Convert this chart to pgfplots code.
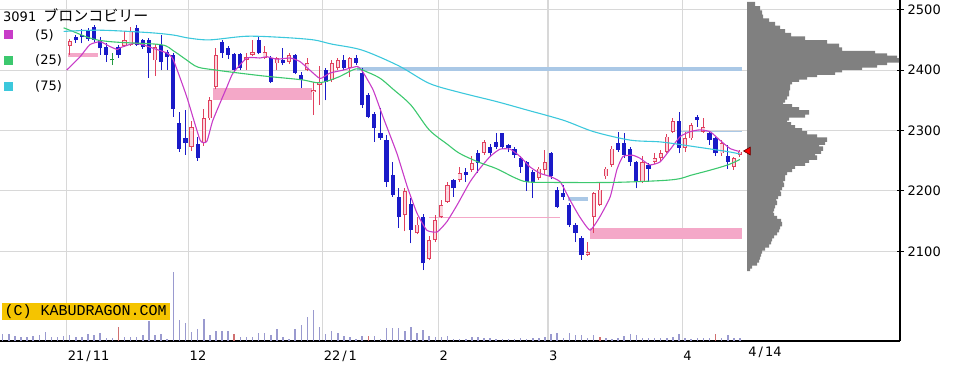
\documentclass[border=0pt]{standalone}
\usepackage{pgfplots}
\usepackage{pgfplotstable}
\pgfplotsset{compat=1.18}
\usepackage{fontspec}
\setmainfont{DejaVu Sans}
\newfontfamily\jpfont{Noto Sans CJK JP}
\newfontfamily\cmono{Liberation Mono}

\definecolor{candleblue}{HTML}{1A1AC8}
\definecolor{candlered}{HTML}{E0405E}
\definecolor{candlepink}{HTML}{FBD6DE}
\definecolor{dojigreen}{HTML}{229A40}
\definecolor{macolA}{HTML}{C83CC8}
\definecolor{macolB}{HTML}{3CC86E}
\definecolor{macolC}{HTML}{3CC8DC}
\definecolor{bandpink}{HTML}{F4A8C8}
\definecolor{bandblue}{HTML}{AAC8E6}
\definecolor{volcol}{HTML}{9A9ACF}
\definecolor{volred}{HTML}{D07070}
\definecolor{gridcol}{HTML}{D8D8D8}
\definecolor{profcol}{HTML}{808080}
\definecolor{kabu}{HTML}{F5C400}

\pgfplotstableread{
i o h l c
11 2440 2451 2425 2448
20 2440 2464 2439 2449
21 2442 2471 2440 2464
25 2416 2443 2390 2438
31 2273 2315 2266 2305
33 2279 2336 2274 2320
34 2320 2355 2318 2350
35 2372 2437 2368 2425
40 2417 2428 2400 2422
41 2425 2450 2424 2430
43 2420 2440 2418 2430
45 2411 2421 2400 2420
47 2414 2428 2410 2425
50 2400 2420 2398 2411
51 2363 2381 2326 2367
52 2375 2406 2342 2381
54 2384 2417 2380 2411
55 2403 2420 2400 2416
57 2403 2422 2389 2420
66 2160 2205 2133 2199
68 2130 2157 2128 2144
70 2088 2125 2085 2119
71 2119 2160 2115 2152
72 2157 2185 2155 2177
73 2182 2215 2180 2210
75 2218 2240 2215 2229
77 2235 2258 2232 2246
79 2263 2285 2260 2281
88 2221 2240 2218 2237
89 2235 2268 2226 2248
96 2094 2115 2092 2099
97 2157 2198 2130 2196
98 2177 2215 2175 2202
99 2224 2240 2220 2237
100 2243 2275 2240 2270
105 2215 2257 2213 2248
107 2248 2262 2244 2254
108 2254 2268 2250 2262
109 2265 2294 2262 2290
110 2298 2320 2296 2315
112 2271 2298 2264 2287
113 2287 2312 2285 2309
115 2298 2320 2296 2306
118 2262 2284 2258 2279
120 2240 2256 2235 2254
121 2259 2268 2256 2265
}\upc

\pgfplotstableread{
i o h l c
12 2455 2458 2445 2449
13 2458 2468 2444 2455
14 2464 2470 2448 2451
15 2471 2474 2447 2450
16 2450 2455 2425 2436
17 2439 2444 2414 2425
19 2438 2442 2420 2425
22 2470 2475 2440 2442
23 2449 2452 2435 2439
24 2449 2453 2387 2428
26 2442 2458 2400 2414
27 2430 2433 2400 2422
28 2425 2428 2323 2336
29 2312 2331 2265 2270
30 2288 2334 2260 2279
32 2278 2290 2250 2255
36 2447 2450 2420 2428
37 2436 2440 2418 2425
38 2426 2428 2398 2400
39 2426 2428 2400 2403
42 2450 2456 2426 2428
44 2420 2423 2378 2381
46 2417 2437 2408 2411
48 2425 2427 2393 2395
49 2392 2397 2370 2384
53 2400 2403 2350 2381
56 2416 2425 2400 2403
58 2420 2425 2408 2412
59 2395 2403 2338 2342
60 2359 2362 2320 2323
61 2328 2330 2281 2304
62 2296 2337 2285 2287
63 2284 2292 2207 2215
64 2226 2248 2190 2193
65 2190 2205 2139 2157
67 2179 2188 2113 2135
69 2157 2162 2069 2080
74 2218 2220 2190 2204
76 2232 2238 2215 2226
78 2263 2268 2230 2246
80 2273 2278 2256 2262
81 2281 2296 2270 2273
82 2295 2296 2270 2272
83 2276 2278 2264 2271
84 2269 2272 2255 2260
85 2254 2257 2230 2240
86 2248 2250 2200 2215
87 2232 2235 2188 2215
90 2262 2265 2220 2224
91 2202 2207 2172 2174
92 2197 2210 2185 2190
93 2177 2180 2140 2144
94 2144 2147 2115 2130
95 2122 2125 2086 2094
101 2279 2298 2265 2268
102 2279 2295 2255 2259
103 2270 2272 2242 2248
104 2248 2250 2204 2215
106 2243 2246 2215 2237
111 2315 2331 2262 2271
114 2323 2326 2306 2317
116 2295 2298 2276 2284
117 2287 2290 2258 2262
119 2257 2276 2237 2248
}\downc

\pgfplotstableread{
i o h l c
18 2416 2428 2408 2418
}\dojic

\pgfplotstableread{
i v
0 7
1 7
2 5
3 4.3
4 4.3
5 5.3
6 5.7
7 8.7
8 3.7
9 4
10 4.7
11 5.7
12 4
13 4
14 7
15 6
16 8.3
17 2.7
18 2.7
20 4
21 3.7
22 3.7
23 5.7
24 20.3
25 5.7
26 7
27 2.3
28 69.3
29 21
30 17.7
31 9.3
32 11.7
33 22
34 5.7
35 10
36 10
37 10
39 3.7
40 3.7
41 3.7
42 8.3
43 8.3
44 5.7
45 11.7
46 3.7
47 2.3
48 11.7
49 16.3
50 23.7
51 31
52 14.3
53 7
54 10
55 8.3
56 5
57 3.7
58 2.3
59 5.3
61 5.3
62 2.3
63 13
64 13
65 13
66 10
67 14.3
68 8.3
69 11.3
70 5.3
71 3.7
72 3.7
73 5.3
74 2.3
75 2.3
76 2.3
77 3.7
78 3.7
79 2.7
80 2.7
81 2.3
82 2.3
83 2.3
84 2.3
85 3.3
86 1.7
87 3.3
88 3.3
89 3.7
90 7
91 8.3
92 2.7
93 8.3
94 6
95 5.7
96 3.3
97 6.3
99 3.3
100 2.3
101 3.3
102 5
103 6.7
104 6
105 3.3
106 2.7
107 2.7
108 2.7
109 3.3
110 4.3
111 7
112 3.3
113 2.3
114 2.7
115 2.7
116 3.3
118 3.3
119 5.7
120 2.7
121 2.7
}\vol

\pgfplotstableread{
i v
19 14.3
38 7
60 5.3
98 3.7
117 7
}\volred

\pgfplotstableread{
p v
2509 8
2502 13
2495 15
2488 16
2482 22
2476 28
2470 33
2464 38
2458 44
2452 58
2446 80
2440 92
2434 95
2428 128
2424 140
2420 150
2416 152
2412 140
2408 130
2404 115
2400 95
2396 88
2392 70
2388 60
2384 52
2380 45
2375 43
2370 43
2365 42
2360 42
2355 40
2350 38
2345 36
2340 45
2335 52
2330 62
2325 58
2320 42
2315 40
2310 44
2305 48
2300 55
2295 60
2290 70
2285 80
2280 78
2275 72
2270 76
2265 74
2260 68
2255 70
2250 62
2245 58
2240 48
2235 45
2230 40
2225 38
2220 38
2215 36
2210 37
2205 35
2200 33
2195 34
2190 31
2185 29
2180 30
2175 28
2170 27
2165 26
2160 27
2155 30
2150 34
2145 35
2140 33
2135 32
2130 30
2125 27
2120 25
2115 24
2110 22
2105 18
2100 15
2095 14
2090 13
2085 12
2080 10
2075 5
2071 3
}\prof

\pgfplotsset{
  base/.style={scale only axis, width=900bp, height=341bp, at={(0,0)}, anchor=south west},
  pricex/.style={xmin=-0.443, xmax=147.27},
  pricey/.style={ymin=1951.5, ymax=2516},
  cbody/.style 2 args={forget plot, draw=none, mark=none,
    error bars/.cd, y dir=plus, y explicit, error mark=none,
    error bar style={draw=#1, solid, line width=#2}},
}

\begin{document}
\begin{tikzpicture}
\useasboundingbox (0,-24bp) rectangle (967bp,341bp);

% ---------- main price axis ----------
\begin{axis}[base, pricex, pricey,
  axis x line=bottom, axis y line=right,
  axis line style={-, black, line width=1.2bp},
  xtick={10.5,30.5,52.5,71.5,89.5,111.5},
  xticklabels={21\kern2bp/\kern2bp11, 12, 22\kern2bp/\kern2bp1, 2, 3, 4},
  extra x ticks={122.2},
  extra x tick labels={4\kern2bp/\kern2bp14},
  extra x tick style={grid=none, major tick length=0pt},
  xtick style={draw=none},
  xticklabel style={anchor=north west, inner sep=0pt, yshift=-6bp, xshift=1bp,
     font=\fontsize{13bp}{13bp}\selectfont},
  ytick={2100,2200,2300,2400,2500},
  yticklabels={2100,2200,2300,2400,2500},
  ytick pos=right, yticklabel pos=right,
  ytick style={black, line width=1bp},
  yticklabel style={anchor=west, inner sep=0pt, xshift=4bp,
     font=\fontsize{13bp}{13bp}\selectfont},
  tick align=center, major tick length=7bp,
  xmajorgrids, ymajorgrids, grid style={gridcol, line width=1.1bp},
  legend style={at={(0,1)}, anchor=north west, xshift=4bp, yshift=-29bp,
     draw=none, fill=none, inner sep=0pt, row sep=14.5bp,
     font=\fontsize{13bp}{13bp}\selectfont, nodes={inner sep=0pt}},
  legend cell align=left,
  legend image code/.code={\fill[#1, draw=none] (0bp,-4.5bp) rectangle (9bp,4.5bp); \path[draw=none, fill=none] (0bp,0bp) -- (31bp,0bp);},
]
% zones
\addplot[forget plot, bandpink, line width=4bp] coordinates {(10.7,2425) (15.6,2425)};
\addplot[forget plot, bandpink, line width=12bp] coordinates {(34.5,2360) (50.8,2360)};
\addplot[forget plot, bandblue, line width=4bp] coordinates {(58.2,2401) (121.3,2401)};
\addplot[forget plot, bandpink, line width=1.5bp] coordinates {(70,2156) (91.5,2156)};
\addplot[forget plot, bandblue, line width=4bp] coordinates {(92.8,2186) (96.1,2186)};
\addplot[forget plot, bandpink, line width=11bp] coordinates {(96.4,2130) (121.3,2130)};
\addplot[forget plot, bandblue, line width=1.5bp] coordinates {(111,2298) (121.3,2298)};

% candles: wicks
\addplot[cbody={candleblue}{1bp}] table[x=i, y=l, y error plus expr={\thisrow{h}-\thisrow{l}}] {\downc};
\addplot[cbody={candlered}{1bp}] table[x=i, y=l, y error plus expr={\thisrow{h}-\thisrow{l}}] {\upc};
\addplot[cbody={dojigreen}{1bp}] table[x=i, y=l, y error plus expr={\thisrow{h}-\thisrow{l}}] {\dojic};
% bodies
\addplot[cbody={candleblue}{4.2bp}] table[x=i, y=c, y error plus expr={max(\thisrow{o}-\thisrow{c},1.5)}] {\downc};
\addplot[cbody={candlered}{4.2bp}] table[x=i, y=o, y error plus expr={max(\thisrow{c}-\thisrow{o},1.5)}] {\upc};
\addplot[cbody={candlepink}{2.4bp}] table[x=i, y expr={\thisrow{o}+1.3}, y error plus expr={max(\thisrow{c}-\thisrow{o}-2.6,0)}] {\upc};
\addplot[cbody={dojigreen}{4.2bp}] table[x=i, y=o, y error plus expr={max(\thisrow{c}-\thisrow{o},1.5)}] {\dojic};

% moving averages
\addplot[macolA, line width=1.1bp, smooth, tension=0.3] coordinates {
(10.5,2400) (12.7,2422) (14.3,2442) (16,2447) (17.6,2439) (18.8,2434) (19.3,2437) (21.4,2444) (23,2442) (24.7,2436) (27,2428) (28,2417) (30.2,2356) (32.4,2284) (33.5,2282) (34.5,2317) (36.8,2372) (37.8,2395) (40.1,2420) (42.2,2420) (43.4,2422) (45,2418) (47.2,2420) (48.8,2414) (50.4,2400) (52.1,2386) (53.7,2395) (55.9,2400) (58.2,2406) (59.1,2397) (60.8,2367) (62.4,2323) (64.7,2262) (66.4,2207) (68,2163) (69.6,2135) (71.3,2132) (72.9,2149) (74.6,2177) (76.7,2215) (78.3,2237) (80,2257) (81.6,2269) (83.3,2269) (84.9,2257) (86.5,2240) (88.2,2229) (89.8,2224) (91.5,2215) (93.1,2185) (94.7,2157) (96.4,2135) (98,2157) (99.7,2190) (100.8,2235) (101.8,2257) (103.4,2259) (104.6,2254) (106.2,2243) (107.9,2248) (109.5,2268) (111.2,2290) (112.8,2298) (114.4,2301) (116.1,2298) (117.7,2284) (119.4,2270) (121,2265)};
\addlegendentry{(5)}
\addplot[macolB, line width=1.1bp, smooth] coordinates {
(10,2470) (12,2462) (14,2454) (16,2449) (19,2446) (26,2442) (28,2432) (30,2418) (32,2405) (35,2400) (38,2396) (43,2390) (49,2384) (52,2379) (55,2388) (58,2402) (60,2396) (62,2386) (64,2369) (67,2342) (70,2301) (73,2277) (75,2262) (78,2248) (81,2237) (84,2222) (86,2215) (90,2214) (100,2214) (108,2217) (111,2220) (113,2226) (116,2234) (119,2243) (121,2252)};
\addlegendentry{(25)}
\addplot[macolC, line width=1.1bp, smooth] coordinates {
(10,2464) (16,2466) (24,2462) (28,2458) (30.5,2453) (34,2450) (40,2456) (46,2454) (51,2450) (54,2443) (59,2433) (65,2407) (70,2378) (75,2363) (81,2348) (86,2334) (92,2317) (97,2298) (103,2284) (108,2281) (113,2274) (119,2265) (121,2261)};
\addlegendentry{(75)}
\end{axis}

% ---------- volume ----------
\begin{axis}[base, pricex, ymin=0, ymax=341, hide axis]
\addplot[ycomb, volcol, line width=1.5bp, mark=none] table[x=i, y=v] {\vol};
\addplot[ycomb, volred, line width=1.5bp, mark=none] table[x=i, y=v] {\volred};
\end{axis}

% ---------- price-volume profile ----------
\begin{axis}[base, xmin=-747, xmax=153, pricey, hide axis]
\addplot[xbar, bar width=7.5, bar shift=0pt, fill=profcol, draw=none] table[x=v, y=p] {\prof};
\addplot[only marks, mark=triangle*, mark size=4.5bp,
  mark options={rotate=90, fill=red, draw=black!60!red, line width=0.6bp}] coordinates {(1,2266)};
\end{axis}

% ---------- texts ----------
\node[anchor=base west, inner sep=0pt, font=\fontsize{13bp}{13bp}\selectfont] at (3bp,319.5bp)
  {3091\hspace{7bp}{\jpfont\fontsize{15bp}{15bp}\selectfont ブロンコビリー}};
\node[anchor=south west, fill=kabu, inner xsep=3bp, inner ysep=0pt, minimum height=17bp,
  font=\cmono\fontsize{15bp}{15bp}\selectfont] at (1.5bp,21bp) {(C) KABUDRAGON.COM};
\end{tikzpicture}
\end{document}
